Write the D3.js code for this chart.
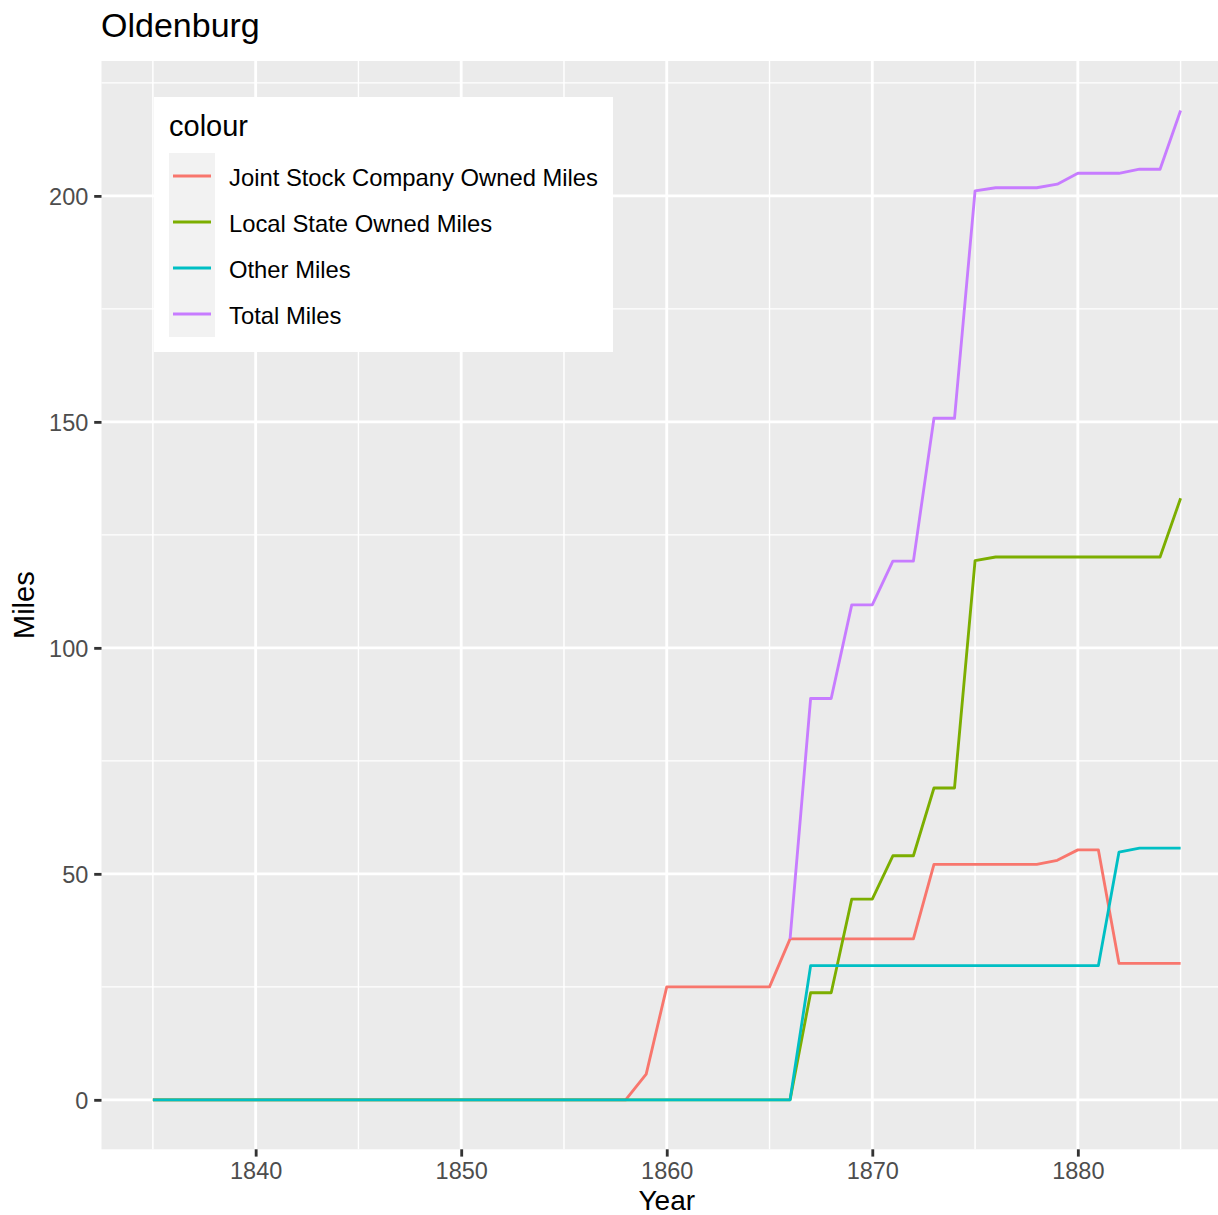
<!DOCTYPE html>
<html>
<head>
<meta charset="utf-8">
<script src="https://cdn.jsdelivr.net/npm/d3@7"></script>
<style>
  html, body { margin: 0; padding: 0; background: #fff; }
  svg { display: block; font-family: "Liberation Sans", Arial, Helvetica, sans-serif; }
</style>
</head>
<body>
<svg id="chart" width="1218" height="1215"></svg>
<script>
// ---------- DATA ----------
const years = [1835,1836,1837,1838,1839,1840,1841,1842,1843,1844,1845,1846,1847,1848,1849,
  1850,1851,1852,1853,1854,1855,1856,1857,1858,1859,1860,1861,1862,1863,1864,1865,1866,
  1867,1868,1869,1870,1871,1872,1873,1874,1875,1876,1877,1878,1879,1880,1881,1882,1883,1884,1885];

const jointStock = [0,0,0,0,0,0,0,0,0,0,0,0,0,0,0,0,0,0,0,0,0,0,0,0,
  5.7, 25,25,25,25,25,25, 35.6,35.6,35.6,35.6,35.6,35.6,35.6,
  52.1,52.1,52.1,52.1,52.1,52.1, 53.0, 55.3,55.3, 30.2,30.2,30.2,30.2];

const localState = [0,0,0,0,0,0,0,0,0,0,0,0,0,0,0,0,0,0,0,0,0,0,0,0,0,0,0,0,0,0,0,0,
  23.7,23.7, 44.4,44.4, 54.0,54.0, 69.0,69.0, 119.3,
  120.1,120.1,120.1,120.1,120.1,120.1,120.1,120.1,120.1, 133.1];

const otherMiles = [0,0,0,0,0,0,0,0,0,0,0,0,0,0,0,0,0,0,0,0,0,0,0,0,0,0,0,0,0,0,0,0,
  29.7,29.7,29.7,29.7,29.7,29.7,29.7,29.7,29.7,29.7,29.7,29.7,29.7,29.7,29.7,
  54.8, 55.7,55.7,55.7];

const totalMiles = [null,null,null,null,null,null,null,null,null,null,null,null,null,null,null,
  null,null,null,null,null,null,null,null,null,null,null,null,null,null,null,null,
  35.6, 88.8,88.8, 109.5,109.5, 119.2,119.2, 150.8,150.8, 201.1, 201.8,201.8,201.8,
  202.6, 205.0,205.0,205.0, 205.9,205.9, 218.9];

const seriesNames = ["Joint Stock Company Owned Miles", "Local State Owned Miles", "Other Miles", "Total Miles"];
const seriesValues = [jointStock, localState, otherMiles, totalMiles];
const seriesColors = ["#F8766D", "#7CAE00", "#00BFC4", "#C77CFF"];

const xTicks = [1840, 1850, 1860, 1870, 1880];
const xMinor = [1835, 1845, 1855, 1865, 1875, 1885];
const yTicks = [0, 50, 100, 150, 200];
const yMinor = [25, 75, 125, 175, 225];

const titleText = "Oldenburg";
const xLabel = "Year";
const yLabel = "Miles";
const legendTitle = "colour";

// ---------- LAYOUT ----------
const svg = d3.select("#chart");
const panel = { left: 101.5, right: 1232, top: 61, bottom: 1149.3 };

const xExt = d3.extent(years);
const xPad = (xExt[1] - xExt[0]) * 0.05;
const x = d3.scaleLinear().domain([xExt[0] - xPad, xExt[1] + xPad]).range([panel.left, panel.right]);

const allVals = seriesValues.flat().filter(v => v != null);
const yExt = [d3.min(allVals), d3.max(allVals)];
const yPad = (yExt[1] - yExt[0]) * 0.05;
const y = d3.scaleLinear().domain([yExt[0] - yPad, yExt[1] + yPad]).range([panel.bottom, panel.top]);

// panel background
svg.append("rect")
  .attr("x", panel.left).attr("y", panel.top)
  .attr("width", panel.right - panel.left).attr("height", panel.bottom - panel.top)
  .attr("fill", "#EBEBEB");

const grid = svg.append("g");
grid.selectAll("line.ymin").data(yMinor).join("line")
  .attr("x1", panel.left).attr("x2", panel.right)
  .attr("y1", d => y(d)).attr("y2", d => y(d))
  .attr("stroke", "#fff").attr("stroke-width", 1.42);
grid.selectAll("line.xmin").data(xMinor).join("line")
  .attr("y1", panel.top).attr("y2", panel.bottom)
  .attr("x1", d => x(d)).attr("x2", d => x(d))
  .attr("stroke", "#fff").attr("stroke-width", 1.42);
grid.selectAll("line.ymaj").data(yTicks).join("line")
  .attr("x1", panel.left).attr("x2", panel.right)
  .attr("y1", d => y(d)).attr("y2", d => y(d))
  .attr("stroke", "#fff").attr("stroke-width", 2.84);
grid.selectAll("line.xmaj").data(xTicks).join("line")
  .attr("y1", panel.top).attr("y2", panel.bottom)
  .attr("x1", d => x(d)).attr("x2", d => x(d))
  .attr("stroke", "#fff").attr("stroke-width", 2.84);

// lines
const line = d3.line()
  .defined(d => d.v != null)
  .x(d => x(d.year)).y(d => y(d.v));

const linesG = svg.append("g");
seriesValues.forEach((vals, i) => {
  const pts = years.map((yr, j) => ({ year: yr, v: vals[j] }));
  linesG.append("path")
    .datum(pts)
    .attr("d", line)
    .attr("fill", "none")
    .attr("stroke", seriesColors[i])
    .attr("stroke-width", 2.85)
    .attr("stroke-linejoin", "round")
    .attr("stroke-linecap", "butt");
});

// axes
const xAxis = d3.axisBottom(x).tickValues(xTicks).tickSize(7.3).tickPadding(5).tickFormat(d3.format("d"));
const gx = svg.append("g").attr("transform", `translate(0,${panel.bottom})`).call(xAxis);
gx.select(".domain").remove();
gx.selectAll(".tick line").attr("stroke", "#333333").attr("stroke-width", 2.84);
gx.selectAll(".tick text").attr("fill", "#4D4D4D").attr("font-size", 23.5)
  .attr("font-family", "Liberation Sans, Arial, sans-serif")
  .attr("dy", null).attr("y", 30);

const yAxis = d3.axisLeft(y).tickValues(yTicks).tickSize(7.3).tickPadding(5.9);
const gy = svg.append("g").attr("transform", `translate(${panel.left},0)`).call(yAxis);
gy.select(".domain").remove();
gy.selectAll(".tick line").attr("stroke", "#333333").attr("stroke-width", 2.84);
gy.selectAll(".tick text").attr("fill", "#4D4D4D").attr("font-size", 23.5)
  .attr("font-family", "Liberation Sans, Arial, sans-serif")
  .attr("dy", "0.36em");

// axis titles
svg.append("text")
  .attr("x", x(1860)).attr("y", 1210)
  .attr("text-anchor", "middle").attr("font-size", 28).attr("fill", "#000")
  .text(xLabel);
svg.append("text")
  .attr("transform", `translate(34,${(panel.top + panel.bottom) / 2}) rotate(-90)`)
  .attr("text-anchor", "middle").attr("font-size", 29).attr("fill", "#000")
  .text(yLabel);

// title
svg.append("text")
  .attr("x", panel.left - 0.5).attr("y", 37)
  .attr("font-size", 34).attr("fill", "#000")
  .text(titleText);

// legend
const lg = svg.append("g");
lg.append("rect").attr("x", 154).attr("y", 97).attr("width", 459).attr("height", 255).attr("fill", "#fff");
lg.append("text").attr("x", 169).attr("y", 136).attr("font-size", 29).attr("fill", "#000").text(legendTitle);
lg.append("rect").attr("x", 169).attr("y", 153).attr("width", 46).attr("height", 46 * seriesNames.length).attr("fill", "#F2F2F2");
seriesNames.forEach((name, i) => {
  const cy = 153 + 23 + 46 * i;
  lg.append("line").attr("x1", 173).attr("x2", 211).attr("y1", cy).attr("y2", cy)
    .attr("stroke", seriesColors[i]).attr("stroke-width", 2.85);
  lg.append("text").attr("x", 229).attr("y", cy + 1.5).attr("dy", "0.36em")
    .attr("font-size", 23.8).attr("fill", "#000").text(name);
});
</script>
</body>
</html>
